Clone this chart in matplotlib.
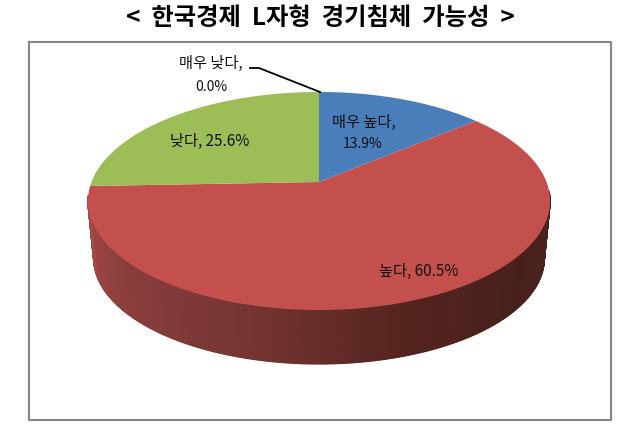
import numpy as np
import matplotlib
matplotlib.use('Agg')
import matplotlib.pyplot as plt
from matplotlib.colors import LinearSegmentedColormap

plt.rcParams['font.family'] = ['Noto Sans CJK KR', 'DejaVu Sans']

categories = ['매우 높다', '높다', '낮다', '매우 낮다']
values = [13.9, 60.5, 25.6, 0.0]
colors = ['#4a7ebb', '#c4504e', '#9dbd57', '#8064a2']
title = '<  한국경제  L자형  경기침체  가능성  >'

# pie geometry in pixels, fitted from the reference
CX, CY = 319, 183
RX, RY = 227.5, 105.7
PERSP = 0.174
WALL_DROP, WALL_SHRINK_X, WALL_SHRINK_Y = 57.8, 0.975, 0.97


def project(theta):
    # theta is degrees clockwise from the top of the pie
    t = np.radians(theta)
    u, v = np.sin(t), np.cos(t)
    s = 1 / (1 + PERSP * v)
    return CX + RX * u * s, CY - RY * v * s


def project_bottom(theta):
    x, y = project(theta)
    return CX + WALL_SHRINK_X * (x - CX), CY + WALL_DROP + WALL_SHRINK_Y * (y - CY)


fig = plt.figure(figsize=(6.37, 4.31), dpi=100)
ax = fig.add_axes([0, 0, 1, 1])
ax.set_xlim(0, 637)
ax.set_ylim(431, 0)
ax.axis('off')

# frame
ax.plot([29, 611, 611, 29, 29], [43, 43, 421, 421, 43], color='#868686', lw=1.5, zorder=1)

# side wall of the big slice, shaded from left to right
wall_cmap = LinearSegmentedColormap.from_list(
    'wall', ['#a84a48', '#8a3e3c', '#763533', '#55241f', '#47201c', '#4c221e'])
th = np.linspace(95, 263, 500)
xt, yt = project(th)
xb, yb = project_bottom(th)
for i in range(len(th) - 1):
    shade = wall_cmap(1 - i / (len(th) - 2))
    ax.fill([xt[i], xt[i + 1], xb[i + 1], xb[i]], [yt[i], yt[i + 1], yb[i + 1], yb[i]],
            color=shade, lw=0.9, zorder=2)

# top surface
start = 0
for val, col in zip(values, colors):
    if val > 0:
        th = np.linspace(start, start + val * 3.6, 200)
        x, y = project(th)
        ax.fill(np.r_[CX, x], np.r_[CY, y], color=col, lw=0, zorder=3)
    start += val * 3.6

# labels
lab = dict(ha='center', va='center', fontsize=11, color='#111111', zorder=5)
num = dict(lab, fontsize=10)
ax.text(364, 122, f'{categories[0]},', **lab)
ax.text(363, 144, f'{values[0]:.1f}%', **num)
ax.text(419, 271, f'{categories[1]}, {values[1]:.1f}%', **lab)
ax.text(210, 141, f'{categories[2]}, {values[2]:.1f}%', **lab)
ax.text(211, 63, f'{categories[3]},', **lab)
ax.text(211, 87, f'{values[3]:.1f}%', **num)
ax.plot([250, 259, 320], [69, 69, 93], color='black', lw=1.3, zorder=4)

ax.text(320, 18, title, ha='center', va='center', fontsize=17.5, fontweight='bold', color='black')

fig.savefig('out.png', dpi=100)
